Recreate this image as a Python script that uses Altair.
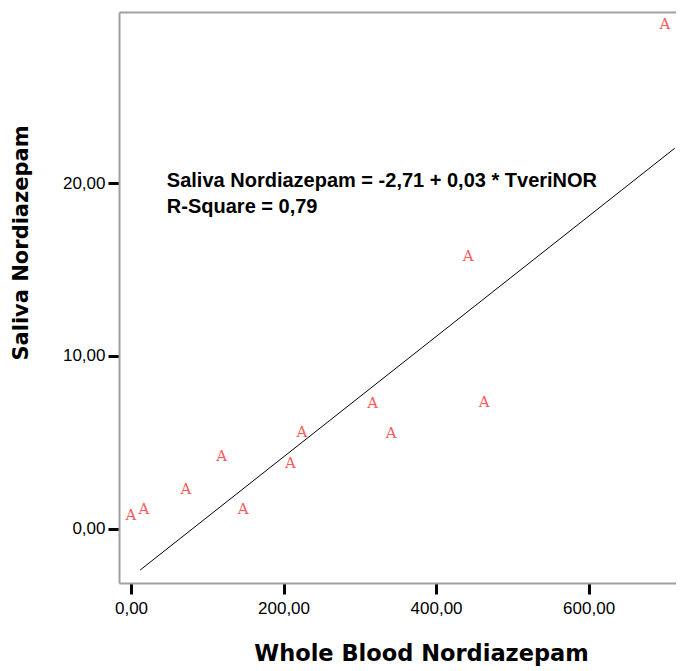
import altair as alt
import pandas as pd

# Data
blood = [0, 17, 72, 119, 147, 209, 224, 317, 341, 442, 463, 700]
saliva = [0.79, 1.16, 2.32, 4.23, 1.16, 3.79, 5.62, 7.30, 5.52, 15.78, 7.34, 29.2]
marker = ["A"] * len(blood)

fit_x = [12, 713]
fit_y = [-2.40, 22.03]

x_ticks = [0, 200, 400, 600]
y_ticks = [0, 10, 20]

eq_lines = ["Saliva Nordiazepam = -2,71 + 0,03 * TveriNOR", "R-Square = 0,79"]
eq_x = [47, 47]
eq_y = [19.77, 18.26]

pts = pd.DataFrame({"blood": blood, "saliva": saliva, "m": marker})
fit = pd.DataFrame({"blood": fit_x, "saliva": fit_y})
eq = pd.DataFrame({"blood": eq_x, "saliva": eq_y, "t": eq_lines})

xscale = alt.Scale(domain=[-15.73, 714.6], nice=False, zero=False)
yscale = alt.Scale(domain=[-3.15, 29.92], nice=False, zero=False)

lab_expr = "replace(format(datum.value, '.2f'), '.', ',')"

x_axis = alt.Axis(
    orient="bottom", values=x_ticks, labelExpr=lab_expr, grid=False,
    title="Whole Blood Nordiazepam", titleX=302, titleY=77,
    titleAlign="center", titleBaseline="alphabetic",
    titleFont="DejaVu Sans", titleFontWeight="bold", titleFontSize=22.5,
    tickSize=11, tickWidth=3, tickColor="black", labelPadding=6,
)
y_axis = alt.Axis(
    orient="left", values=y_ticks, labelExpr=lab_expr, grid=False,
    title="Saliva Nordiazepam", titleX=-92, titleY=230.5, titleAngle=270,
    titleAlign="center", titleBaseline="alphabetic",
    titleFont="DejaVu Sans", titleFontWeight="bold", titleFontSize=21,
    tickSize=11, tickWidth=3, tickColor="black", labelPadding=3,
)
top_axis = alt.Axis(orient="top", labels=False, ticks=False, domain=True,
                    grid=False, title=None)

points = alt.Chart(pts).mark_text(
    font="DejaVu Serif", fontSize=15, color="#ff5a5a",
    align="center", baseline="middle"
).encode(
    x=alt.X("blood:Q", scale=xscale, axis=x_axis),
    y=alt.Y("saliva:Q", scale=yscale, axis=y_axis),
    text="m:N",
)

line = alt.Chart(fit).mark_line(color="black", strokeWidth=1).encode(
    x=alt.X("blood:Q", scale=xscale, axis=None),
    y=alt.Y("saliva:Q", scale=yscale, axis=y_axis),
)

label = alt.Chart(eq).mark_text(
    align="left", baseline="alphabetic", font="Liberation Sans",
    fontWeight="bold", fontSize=20, color="black"
).encode(
    x=alt.X("blood:Q", scale=xscale, axis=None),
    y=alt.Y("saliva:Q", scale=yscale, axis=y_axis),
    text="t:N",
)

topframe = alt.Chart(pts).mark_point(opacity=0).encode(
    x=alt.X("blood:Q", scale=xscale, axis=top_axis),
    y=alt.Y("saliva:Q", scale=yscale, axis=y_axis),
)

chart = alt.layer(points, line, label, topframe).resolve_axis(
    x="independent"
).properties(
    width=557, height=571,
    padding={"left": 111, "top": 4, "right": 0, "bottom": 83},
    autosize=alt.AutoSizeParams(type="none"),
).configure_view(stroke=None).configure_axis(
    domainColor="#a0a0a0", domainWidth=2,
    labelFont="Liberation Sans", labelFontSize=17, labelColor="black",
    titleColor="black",
)

chart.save("out.html", embed_options={"renderer": "svg", "actions": False})
